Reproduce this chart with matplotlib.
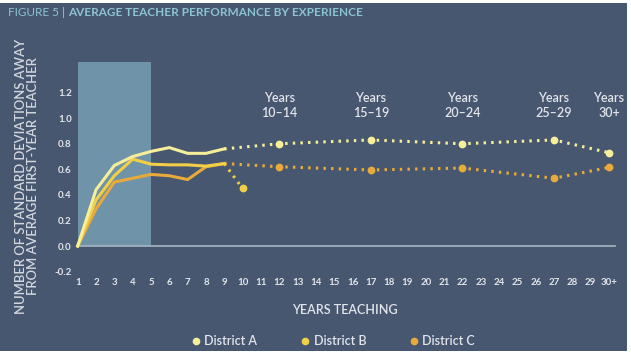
import matplotlib.pyplot as plt
from matplotlib.patches import Rectangle
from matplotlib.lines import Line2D

plt.rcParams['font.family'] = ['Lato', 'DejaVu Sans']

# solid part: years 1-9
years = list(range(1, 10))
district_a = [0.0, 0.44, 0.63, 0.70, 0.74, 0.77, 0.725, 0.725, 0.76]
district_b = [0.0, 0.36, 0.55, 0.68, 0.64, 0.635, 0.635, 0.625, 0.645]
district_c = [0.0, 0.29, 0.50, 0.53, 0.56, 0.55, 0.52, 0.62, 0.645]

# dotted part: later year bands
years_late = [9, 12, 17, 22, 27, 30]
district_a_late = [0.76, 0.80, 0.83, 0.80, 0.83, 0.73]
district_c_late = [0.645, 0.62, 0.595, 0.61, 0.53, 0.615]
years_b_late = [9, 10]
district_b_late = [0.645, 0.45]

band_years = [12, 17, 22, 27, 30]
band_labels = ['Years\n10–14', 'Years\n15–19', 'Years\n20–24', 'Years\n25–29', 'Years\n30+']

xlabels = [str(i) for i in range(1, 30)] + ['30+']
ytick_vals = [-0.2, 0.0, 0.2, 0.4, 0.6, 0.8, 1.0, 1.2]

bg = '#475770'
col_a = '#f6ee9a'
col_b = '#f1cf48'
col_c = '#e8aa3a'
txt = '#e2e5ea'

fig = plt.figure(figsize=(6.31, 3.57), dpi=100)
fig.patch.set_facecolor('white')
fig.patches.append(Rectangle((0, 6 / 357), 627 / 631, 348 / 357, transform=fig.transFigure,
                             facecolor=bg, edgecolor='none', zorder=-10))

W, H = 631, 357
x0 = 77.7 - 0.25 * 18.33
x1 = 609 + 0.5 * 18.33
y_bot = 246 + 0.22 * 127.8
y_top = 246 - 1.5 * 127.8
ax = fig.add_axes([x0 / W, 1 - y_bot / H, (x1 - x0) / W, (y_bot - y_top) / H])
ax.set_facecolor('none')
ax.set_xlim(0.75, 30.5)
ax.set_ylim(-0.22, 1.5)
for s in ax.spines.values():
    s.set_visible(False)

# first five years shaded
ax.add_patch(Rectangle((1, 0), 4, 1.44, facecolor='#6f93a8', edgecolor='none', zorder=0))
ax.plot([1, 30.3], [0, 0], color='#a8b5c3', lw=1.2, zorder=1)

ax.plot(years, district_c, color=col_c, lw=2.2, zorder=3, solid_joinstyle='miter')
ax.plot(years, district_b, color=col_b, lw=2.2, zorder=4, solid_joinstyle='miter')
ax.plot(years, district_a, color=col_a, lw=2.2, zorder=5, solid_joinstyle='miter')

dots = (0, (0.8, 1.7))
ax.plot(years_late, district_c_late, color=col_c, lw=2.2, ls=dots, zorder=3)
ax.plot(years_late[1:], district_c_late[1:], 'o', color=col_c, ms=4.6, zorder=3)
ax.plot(years_b_late, district_b_late, color=col_b, lw=2.2, ls=dots, zorder=4)
ax.plot(years_b_late[1:], district_b_late[1:], 'o', color=col_b, ms=4.6, zorder=4)
ax.plot(years_late, district_a_late, color=col_a, lw=2.2, ls=dots, zorder=5)
ax.plot(years_late[1:], district_a_late[1:], 'o', color=col_a, ms=4.6, zorder=5)

for x, lab in zip(band_years, band_labels):
    ax.text(x, 1.10, lab, ha='center', va='center', color=txt, fontsize=9,
            fontweight='semibold', linespacing=1.35)

ax.set_xticks(range(1, 31))
ax.set_xticklabels(xlabels)
ax.set_yticks(ytick_vals)
ax.set_yticklabels([f'{v:.1f}' for v in ytick_vals])
ax.tick_params(length=0, colors=txt, labelsize=7)
ax.tick_params(axis='x', pad=3)
ax.tick_params(axis='y', pad=1)
for t in ax.get_xticklabels() + ax.get_yticklabels():
    t.set_fontweight('bold')

fig.text(345 / W, 1 - 310 / H, 'YEARS TEACHING', ha='center', va='center',
         color=txt, fontsize=9, fontweight='semibold')
fig.text(27 / W, 1 - 176 / H, 'NUMBER OF STANDARD DEVIATIONS AWAY\nFROM AVERAGE FIRST-YEAR TEACHER',
         ha='center', va='center', rotation=90, color='#d3d8de', fontsize=9.4,
         fontweight='semibold', linespacing=1.0)

title_col = '#8cc4d4'
t1 = fig.text(8 / W, 1 - 13 / H, 'FIGURE 5 |', ha='left', va='center', color=title_col, fontsize=8.5)
fig.canvas.draw()
bb = t1.get_window_extent()
fig.text((bb.x1 + 3) / W, 1 - 13 / H, 'AVERAGE TEACHER PERFORMANCE BY EXPERIENCE', ha='left',
         va='center', color=title_col, fontsize=8.5, fontweight='bold')

handles = [Line2D([], [], ls='none', marker='o', ms=4.5, color=c) for c in (col_a, col_b, col_c)]
leg = fig.legend(handles, ['District A', 'District B', 'District C'], loc='center',
                 bbox_to_anchor=(334 / W, 1 - 341 / H), ncol=3, frameon=False,
                 handlelength=0.5, handletextpad=0.4, columnspacing=3.6, fontsize=9)
for t in leg.get_texts():
    t.set_color(txt)
    t.set_fontweight('semibold')

fig.savefig('out.png', dpi=100, facecolor=fig.get_facecolor())
